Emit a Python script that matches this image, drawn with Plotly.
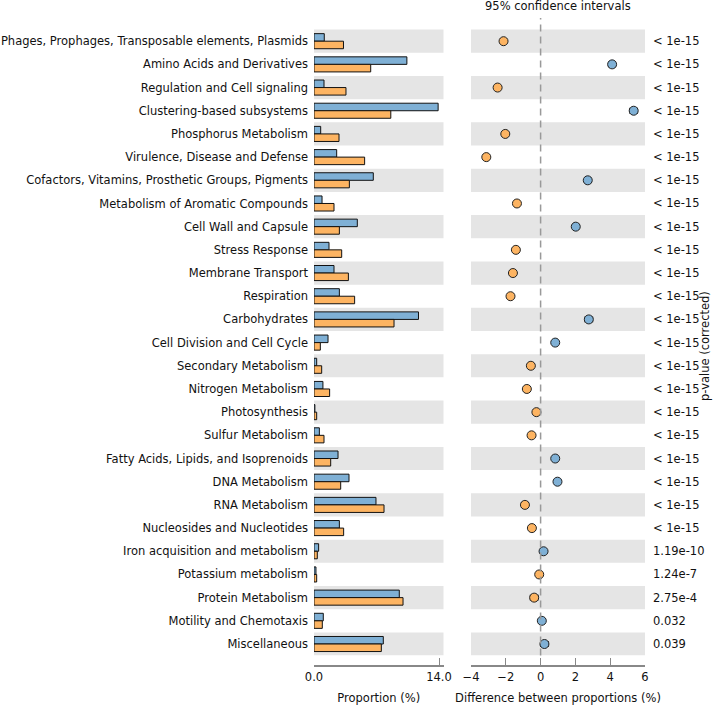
import plotly.graph_objects as go

categories = [
    "Phages, Prophages, Transposable elements, Plasmids",
    "Amino Acids and Derivatives",
    "Regulation and Cell signaling",
    "Clustering-based subsystems",
    "Phosphorus Metabolism",
    "Virulence, Disease and Defense",
    "Cofactors, Vitamins, Prosthetic Groups, Pigments",
    "Metabolism of Aromatic Compounds",
    "Cell Wall and Capsule",
    "Stress Response",
    "Membrane Transport",
    "Respiration",
    "Carbohydrates",
    "Cell Division and Cell Cycle",
    "Secondary Metabolism",
    "Nitrogen Metabolism",
    "Photosynthesis",
    "Sulfur Metabolism",
    "Fatty Acids, Lipids, and Isoprenoids",
    "DNA Metabolism",
    "RNA Metabolism",
    "Nucleosides and Nucleotides",
    "Iron acquisition and metabolism",
    "Potassium metabolism",
    "Protein Metabolism",
    "Motility and Chemotaxis",
    "Miscellaneous",
]
blue_prop = [1.15, 10.4, 1.12, 13.9, 0.75, 2.54, 6.64, 0.9, 4.85, 1.68, 2.24, 2.84, 11.7,
             1.57, 0.3, 1.0, 0.1, 0.6, 2.69, 3.92, 6.94, 2.84, 0.52, 0.22, 9.55, 1.04, 7.76]
orange_prop = [3.3, 6.35, 3.58, 8.6, 2.8, 5.67, 3.96, 2.24, 2.84, 3.1, 3.85, 4.55, 8.96,
               0.71, 0.86, 1.75, 0.3, 1.12, 1.87, 2.99, 7.84, 3.32, 0.37, 0.3, 9.97, 0.93, 7.54]
diff = [-2.13, 4.11, -2.47, 5.35, -2.03, -3.12, 2.71, -1.36, 2.02, -1.42, -1.59, -1.73, 2.77,
        0.84, -0.56, -0.79, -0.24, -0.52, 0.84, 0.97, -0.9, -0.5, 0.17, -0.08, -0.37, 0.07, 0.22]
ci = [0.15, 0.2, 0.15, 0.22, 0.12, 0.15, 0.18, 0.1, 0.18, 0.12, 0.13, 0.15, 0.22,
      0.1, 0.05, 0.08, 0.04, 0.06, 0.12, 0.14, 0.2, 0.12, 0.05, 0.04, 0.22, 0.08, 0.22]
pvalues = ["< 1e-15"] * 22 + ["1.19e-10", "1.24e-7", "2.75e-4", "0.032", "0.039"]

BLUE = "#7fb0d5"
ORANGE = "#fdb462"
BAND = "#e5e5e5"
FONT = "DejaVu Sans"
W, H = 720, 705


def px_x(p):
    return p / W


def px_y(p):
    return 1 - p / H


idx = list(range(len(categories)))

fig = go.Figure()
fig.add_trace(go.Bar(
    y=idx, x=blue_prop, orientation="h", marker=dict(color=BLUE, line=dict(color="#111", width=1)),
    xaxis="x", yaxis="y", showlegend=False, hoverinfo="skip"))
fig.add_trace(go.Bar(
    y=idx, x=orange_prop, orientation="h", marker=dict(color=ORANGE, line=dict(color="#111", width=1)),
    xaxis="x", yaxis="y", showlegend=False, hoverinfo="skip"))

colors = [BLUE if d > 0 else ORANGE for d in diff]
fig.add_trace(go.Scatter(
    x=diff, y=idx, mode="markers", xaxis="x2", yaxis="y2", showlegend=False, hoverinfo="skip",
    error_x=dict(type="data", array=ci, color="#111", thickness=1, width=3),
    marker=dict(color=colors, size=9, line=dict(color="#222", width=1))))

shapes = []
for i in idx:
    if i % 2 == 0:
        for xr, yr in (("x domain", "y"), ("x2 domain", "y2")):
            shapes.append(dict(type="rect", xref=xr, yref=yr, x0=0, x1=1, y0=i - 0.5, y1=i + 0.5,
                               fillcolor=BAND, line=dict(width=0), layer="below"))
shapes.append(dict(type="line", xref="x2", yref="y2 domain", x0=0, x1=0, y0=0, y1=1,
                   line=dict(color="#999999", width=1.5, dash="7px,5px"), layer="above"))

annotations = []
for i, p in zip(idx, pvalues):
    annotations.append(dict(x=px_x(651), y=i, xref="paper", yref="y2", text=p, showarrow=False,
                            xanchor="left", yanchor="middle", font=dict(family=FONT, size=11.5, color="#111")))
annotations.append(dict(x=px_x(558), y=px_y(6.5), xref="paper", yref="paper", text="95% confidence intervals",
                        showarrow=False, xanchor="center", yanchor="middle",
                        font=dict(family=FONT, size=11.5, color="#111")))
annotations.append(dict(x=px_x(705), y=px_y(346), xref="paper", yref="paper", text="p-value (corrected)",
                        showarrow=False, textangle=-90, xanchor="center", yanchor="middle",
                        font=dict(family=FONT, size=11.5, color="#111")))

ydom = [px_y(655.6), px_y(18)]
yrange = [26.5, -1.0]
axpos = px_y(666)

fig.update_layout(
    width=W, height=H, margin=dict(l=0, r=0, t=0, b=0),
    paper_bgcolor="white", plot_bgcolor="white",
    font=dict(family=FONT, size=11.5, color="#111"),
    barmode="group", bargap=0.35, bargroupgap=0,
    shapes=shapes, annotations=annotations,
    xaxis=dict(domain=[px_x(314), px_x(443.5)], range=[0, 14.5], anchor="free", position=axpos,
               tickvals=[0, 14], ticktext=["0.0", "14.0"], ticks="inside", ticklen=7, tickcolor="#888",
               showline=True, linecolor="#888", linewidth=1.5, showgrid=False, zeroline=False,
               title=dict(text="Proportion (%)", standoff=10, font=dict(size=11.5)), automargin=False),
    yaxis=dict(domain=ydom, range=yrange, tickvals=idx, ticktext=categories, ticks="",
               showline=False, showgrid=False, zeroline=False, automargin=False, ticklabelstandoff=5),
    xaxis2=dict(domain=[px_x(471), px_x(645)], range=[-4, 6], anchor="free", position=axpos,
                tickvals=[-4, -2, 0, 2, 4, 6], ticktext=["\u22124", "\u22122", "0", "2", "4", "6"],
                ticks="inside", ticklen=7, tickcolor="#888",
                showline=True, linecolor="#888", linewidth=1.5, showgrid=False, zeroline=False,
                title=dict(text="Difference between proportions (%)", standoff=10, font=dict(size=11.5)),
                automargin=False),
    yaxis2=dict(domain=ydom, range=yrange, anchor="x2", showticklabels=False, ticks="",
                showline=False, showgrid=False, zeroline=False),
)

fig.write_html("out.html", config={"displayModeBar": False},
               post_script="document.body.style.margin='0';document.body.style.overflow='hidden';")
